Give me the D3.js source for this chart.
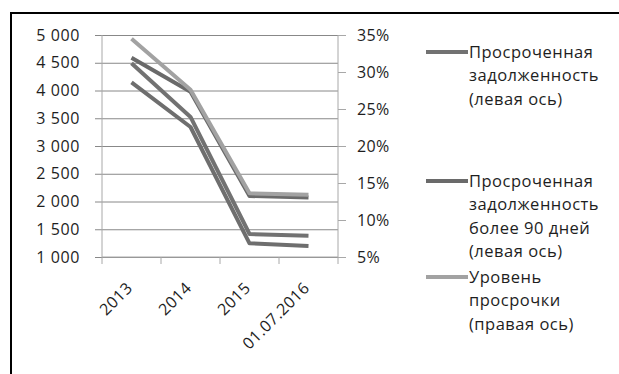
<!DOCTYPE html>
<html>
<head>
<meta charset="utf-8">
<script src="https://cdn.jsdelivr.net/npm/d3@7"></script>
<style>
	body { margin:0; background:#fff; }
	text { font-family:"Open Sans", sans-serif; fill:#1e1e1e; }
</style>
</head>
<body>
<svg id="chart" width="619" height="374"></svg>
<script>
// data
var categories = ["2013", "2014", "2015", "01.07.2016"];
var overdueTop = [4591, 3978, 2099, 2072];     // left axis, no legend entry
var overdueTotal = [4490, 3523, 1414, 1384];   // left axis
var overdue90 = [4148, 3342, 1247, 1198];      // left axis
var overdueRate = [34.5, 27.6, 13.6, 13.4];    // right axis, %

var leftTicks = [1000, 1500, 2000, 2500, 3000, 3500, 4000, 4500, 5000];
var rightTicks = [5, 10, 15, 20, 25, 30, 35];

var legendLabels = [
	["Просроченная", "задолженность", "(левая ось)"],
	["Просроченная", "задолженность", "более 90 дней", "(левая ось)"],
	["Уровень", "просрочки", "(правая ось)"]
];

var width = 619, height = 374;
var plot = {left:102, right:338, top:35, bottom:257};

var svg = d3.select("#chart");

// outer frame (only top and left edge are inside the picture)
svg.append("rect")
	.attr("x", 11)
	.attr("y", 13)
	.attr("width", 800)
	.attr("height", 600)
	.attr("fill", "none")
	.attr("stroke", "#000")
	.attr("stroke-width", 2);

// scales
var x = d3.scaleBand()
	.domain(categories)
	.range([plot.left, plot.right]);

var yLeft = d3.scaleLinear()
	.domain([1000, 5000])
	.range([plot.bottom, plot.top]);

var yRight = d3.scaleLinear()
	.domain([5, 35])
	.range([plot.bottom, plot.top]);

var fmtLeft = function(d){
	return d3.format(",")(d).replace(",", "\u00a0");
};

// gridlines + left axis
var leftAxis = svg.append("g")
	.attr("transform", "translate(" + plot.left + ",0)")
	.call(d3.axisLeft(yLeft)
		.tickValues(leftTicks)
		.tickSize(7)
		.tickPadding(15)
		.tickFormat(fmtLeft));

leftAxis.select(".domain").remove();
leftAxis.selectAll(".tick line")
	.attr("x2", plot.right - plot.left)
	.attr("x1", -7)
	.attr("stroke", "#888");
leftAxis.selectAll(".tick text")
	.attr("font-size", "16px")
	.attr("letter-spacing", "0.6px")
	.attr("font-family", "Open Sans")
	.attr("fill", "#1e1e1e");

svg.append("line")
	.attr("x1", plot.left).attr("x2", plot.left)
	.attr("y1", plot.top).attr("y2", plot.bottom)
	.attr("stroke", "#a8a8a8");

// right axis
var rightAxis = svg.append("g")
	.attr("transform", "translate(" + plot.right + ",0)")
	.call(d3.axisRight(yRight)
		.tickValues(rightTicks)
		.tickSize(8)
		.tickPadding(11)
		.tickFormat(function(d){ return d + "%"; }));

rightAxis.select(".domain")
	.attr("d", "M0," + plot.top + "V" + plot.bottom)
	.attr("stroke", "#a8a8a8");
rightAxis.selectAll(".tick line").attr("stroke", "#a8a8a8");
rightAxis.selectAll(".tick text")
	.attr("font-size", "16px")
	.attr("letter-spacing", "0.4px")
	.attr("font-family", "Open Sans")
	.attr("fill", "#1e1e1e");

// bottom axis
var bottomAxis = svg.append("g")
	.attr("transform", "translate(0," + plot.bottom + ")");

bottomAxis.append("line")
	.attr("x1", plot.left).attr("x2", plot.right)
	.attr("stroke", "#a8a8a8");

var bounds = categories.map(function(c){ return x(c); }).concat([plot.right]);
bottomAxis.selectAll(".xtick")
	.data(bounds).enter()
	.append("line")
	.attr("class", "xtick")
	.attr("x1", function(d){ return d; })
	.attr("x2", function(d){ return d; })
	.attr("y1", 0).attr("y2", 7)
	.attr("stroke", "#a8a8a8");

bottomAxis.selectAll(".xlabel")
	.data(categories).enter()
	.append("text")
	.attr("class", "xlabel")
	.attr("text-anchor", "end")
	.attr("font-size", "16px")
	.attr("letter-spacing", "0.5px")
	.attr("transform", function(d){
		return "translate(" + (x(d) + x.bandwidth()/2 + 2) + ",32) rotate(-45)";
	})
	.text(function(d){ return d; });

// lines
var lineLeft = d3.line()
	.x(function(d, i){ return x(categories[i]) + x.bandwidth()/2; })
	.y(function(d){ return yLeft(d); });

var lineRight = d3.line()
	.x(function(d, i){ return x(categories[i]) + x.bandwidth()/2; })
	.y(function(d){ return yRight(d); });

var series = [
	{values:overdue90, line:lineLeft, color:"#6e6e6e"},
	{values:overdueTotal, line:lineLeft, color:"#727272"},
	{values:overdueTop, line:lineLeft, color:"#6a6a6a"},
	{values:overdueRate, line:lineRight, color:"#a2a2a2"}
];

svg.append("g")
	.selectAll("path")
	.data(series).enter()
	.append("path")
	.attr("d", function(d){ return d.line(d.values); })
	.attr("fill", "none")
	.attr("stroke", function(d){ return d.color; })
	.attr("stroke-width", 4)
	.attr("stroke-linejoin", "round");

// legend
var legendColors = ["#727272", "#6a6a6a", "#a2a2a2"];
var legendTops = [52, 181, 277];
var lineStep = 23.5;

var legend = svg.append("g")
	.selectAll(".legend")
	.data(legendLabels).enter()
	.append("g")
	.attr("class", "legend")
	.attr("transform", function(d, i){ return "translate(0," + legendTops[i] + ")"; });

legend.append("line")
	.attr("x1", 426).attr("x2", 468)
	.attr("stroke", function(d, i){ return legendColors[i]; })
	.attr("stroke-width", 4);

legend.selectAll("text")
	.data(function(d){ return d; }).enter()
	.append("text")
	.attr("x", 469)
	.attr("y", function(d, i){ return i*lineStep; })
	.attr("dy", "0.36em")
	.attr("font-size", "16.5px")
	.attr("letter-spacing", "0.5px")
	.text(function(d){ return d; });
</script>
</body>
</html>
